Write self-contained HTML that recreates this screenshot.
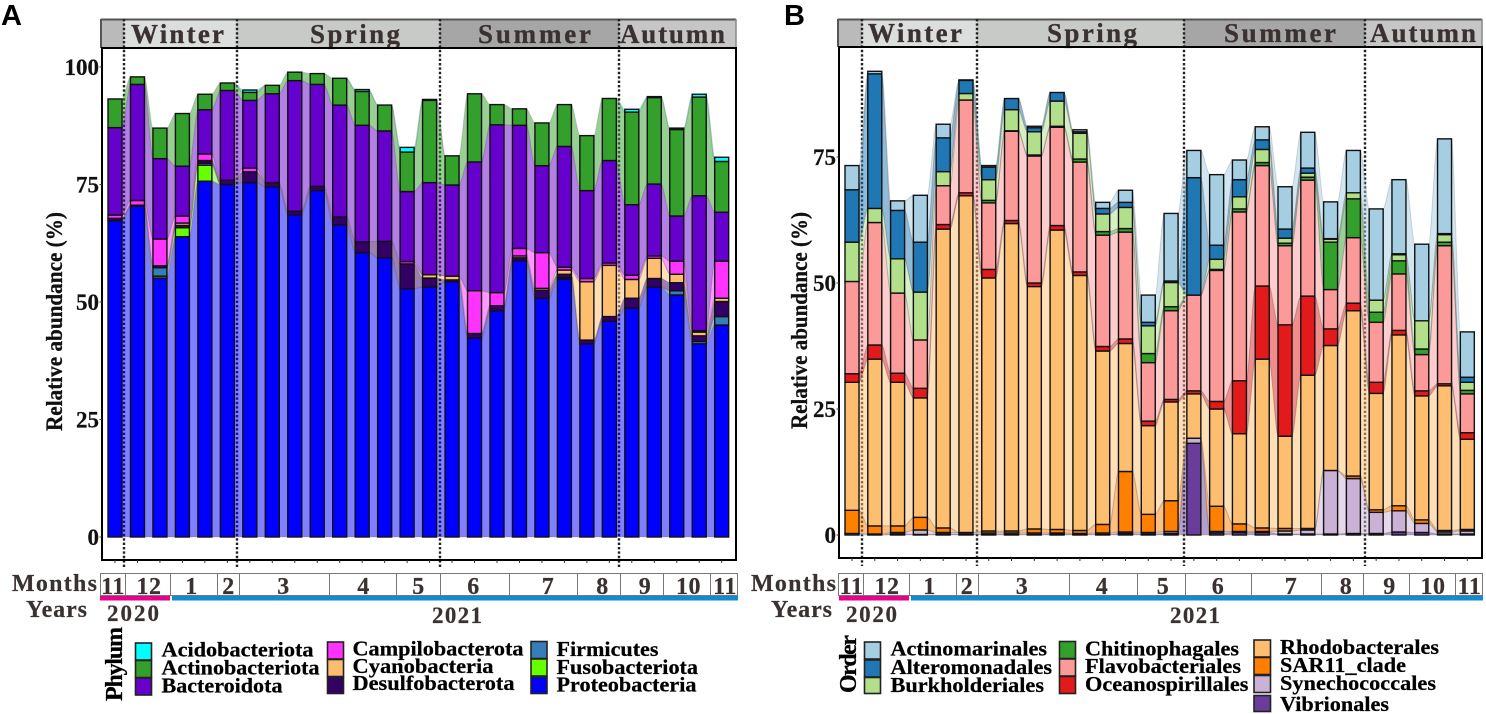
<!DOCTYPE html>
<html lang="en">
<head>
<meta charset="utf-8">
<title>Phylum and order relative abundance</title>
<style>
html,body{margin:0;padding:0;background:#fff;width:1486px;height:714px;overflow:hidden}
svg{display:block;font-family:"Liberation Serif",serif}
.strip{font-weight:bold;font-size:27px;fill:#3a3230;stroke:#3a3230;stroke-width:.3}
.meta{font-weight:bold;font-size:24px;fill:#3a3230;text-anchor:middle;letter-spacing:.5px;stroke:#3a3230;stroke-width:.2}
.year{font-weight:bold;font-size:23px;fill:#3a3230;stroke:#3a3230;stroke-width:.2}
.lab{font-weight:bold;font-size:24px;fill:#3a3230;stroke:#3a3230;stroke-width:.2}
.leg{font-weight:bold;font-size:21.5px;fill:#000;stroke:#000;stroke-width:.25}
.legt{font-weight:bold;font-size:24px;fill:#000;stroke:#000;stroke-width:.25}
.cell{fill:#fff;stroke:#777;stroke-width:1}
.sw{stroke:#222;stroke-width:1.6}
</style>
</head>
<body>
<svg id="fig" xmlns="http://www.w3.org/2000/svg" width="1486" height="714" viewBox="0 0 1486 714">
<rect width="1486" height="714" fill="#fff"/>
<text x="1" y="25" style="font-family:'Liberation Sans',sans-serif;font-weight:bold;font-size:29px">A</text>
<text x="784" y="25" style="font-family:'Liberation Sans',sans-serif;font-weight:bold;font-size:29px">B</text>

<!-- Panel A season strip -->
<g>
<rect x="101" y="19" width="23" height="29" fill="#bababa"/>
<rect x="124" y="19" width="113" height="29" fill="#dcdedd"/>
<rect x="237" y="19" width="203" height="29" fill="#c8cac8"/>
<rect x="440" y="19" width="179" height="29" fill="#a6a6a6"/>
<rect x="619" y="19" width="117" height="29" fill="#c6c6c6"/>
<line x1="101" y1="19.5" x2="736" y2="19.5" stroke="#555" stroke-width="2"/>
<line x1="101" y1="19" x2="101" y2="48" stroke="#555" stroke-width="2"/>
<line x1="736" y1="19" x2="736" y2="48" stroke="#888" stroke-width="1.5"/>
<text class="strip" x="131" y="43" textLength="93">Winter</text>
<text class="strip" x="310" y="43" textLength="90">Spring</text>
<text class="strip" x="478" y="43" textLength="113">Summer</text>
<text class="strip" x="620" y="43" textLength="105">Autumn</text>
</g>

<!-- Panel B season strip -->
<g>
<rect x="838" y="19" width="24" height="28" fill="#bababa"/>
<rect x="862" y="19" width="115" height="28" fill="#dcdedd"/>
<rect x="977" y="19" width="207" height="28" fill="#c8cac8"/>
<rect x="1184" y="19" width="181" height="28" fill="#a6a6a6"/>
<rect x="1365" y="19" width="117" height="28" fill="#c6c6c6"/>
<line x1="838" y1="19.5" x2="1482" y2="19.5" stroke="#555" stroke-width="2"/>
<line x1="838" y1="19" x2="838" y2="47" stroke="#555" stroke-width="2"/>
<line x1="1482" y1="19" x2="1482" y2="47" stroke="#888" stroke-width="1.5"/>
<text class="strip" x="868" y="42" textLength="94">Winter</text>
<text class="strip" x="1047" y="42" textLength="90">Spring</text>
<text class="strip" x="1224" y="42" textLength="112">Summer</text>
<text class="strip" x="1370" y="42" textLength="106">Autumn</text>
</g>

<g id="panelA"></g>
<g id="panelB"></g>

<!-- Panel A months / years -->
<g>
<text class="lab" x="12" y="591" textLength="85">Months</text>
<text class="lab" x="26" y="617" textLength="61">Years</text>
<rect class="cell" x="100.5" y="573.5" width="25" height="22"/>
<rect class="cell" x="125.5" y="573.5" width="45" height="22"/>
<rect class="cell" x="170.5" y="573.5" width="47" height="22"/>
<rect class="cell" x="217.5" y="573.5" width="22" height="22"/>
<rect class="cell" x="239.5" y="573.5" width="90" height="22"/>
<rect class="cell" x="329.5" y="573.5" width="67" height="22"/>
<rect class="cell" x="396.5" y="573.5" width="44" height="22"/>
<rect class="cell" x="440.5" y="573.5" width="69" height="22"/>
<rect class="cell" x="509.5" y="573.5" width="68" height="22"/>
<rect class="cell" x="577.5" y="573.5" width="43" height="22"/>
<rect class="cell" x="620.5" y="573.5" width="43" height="22"/>
<rect class="cell" x="663.5" y="573.5" width="47" height="22"/>
<rect class="cell" x="710.5" y="573.5" width="27" height="22"/>
<text class="meta" x="113" y="594">11</text>
<text class="meta" x="149" y="594">12</text>
<text class="meta" x="191.5" y="594">1</text>
<text class="meta" x="228.5" y="594">2</text>
<text class="meta" x="283.5" y="594">3</text>
<text class="meta" x="363.5" y="594">4</text>
<text class="meta" x="418.5" y="594">5</text>
<text class="meta" x="473.5" y="594">6</text>
<text class="meta" x="548" y="594">7</text>
<text class="meta" x="602.5" y="594">8</text>
<text class="meta" x="645" y="594">9</text>
<text class="meta" x="688.5" y="594">10</text>
<text class="meta" x="725" y="594">11</text>
<rect x="100" y="596" width="70" height="4.5" fill="#e6008c"/>
<rect x="172" y="596" width="566" height="4.5" fill="#0f8bd0"/>
<text class="year" x="107" y="621" textLength="52">2020</text>
<text class="year" x="432" y="623" textLength="50">2021</text>
</g>

<!-- Panel B months / years -->
<g>
<text class="lab" x="751" y="591" textLength="85">Months</text>
<text class="lab" x="771" y="617" textLength="61">Years</text>
<rect class="cell" x="838.5" y="573.5" width="25" height="22"/>
<rect class="cell" x="863.5" y="573.5" width="46" height="22"/>
<rect class="cell" x="909.5" y="573.5" width="47" height="22"/>
<rect class="cell" x="956.5" y="573.5" width="22" height="22"/>
<rect class="cell" x="978.5" y="573.5" width="91" height="22"/>
<rect class="cell" x="1069.5" y="573.5" width="68" height="22"/>
<rect class="cell" x="1137.5" y="573.5" width="48" height="22"/>
<rect class="cell" x="1185.5" y="573.5" width="66" height="22"/>
<rect class="cell" x="1251.5" y="573.5" width="70" height="22"/>
<rect class="cell" x="1321.5" y="573.5" width="42" height="22"/>
<rect class="cell" x="1363.5" y="573.5" width="46" height="22"/>
<rect class="cell" x="1409.5" y="573.5" width="46" height="22"/>
<rect class="cell" x="1455.5" y="573.5" width="27" height="22"/>
<text class="meta" x="851.5" y="594">11</text>
<text class="meta" x="887" y="594">12</text>
<text class="meta" x="929.5" y="594">1</text>
<text class="meta" x="967" y="594">2</text>
<text class="meta" x="1022" y="594">3</text>
<text class="meta" x="1102" y="594">4</text>
<text class="meta" x="1163" y="594">5</text>
<text class="meta" x="1218" y="594">6</text>
<text class="meta" x="1291" y="594">7</text>
<text class="meta" x="1346" y="594">8</text>
<text class="meta" x="1389.5" y="594">9</text>
<text class="meta" x="1433" y="594">10</text>
<text class="meta" x="1469.5" y="594">11</text>
<rect x="839" y="596" width="70" height="4.5" fill="#e6008c"/>
<rect x="911" y="596" width="572" height="4.5" fill="#0f8bd0"/>
<text class="year" x="846" y="622" textLength="51">2020</text>
<text class="year" x="1170" y="623" textLength="50">2021</text>
</g>

<!-- Legend A -->
<g>
<text class="legt" transform="translate(122,701) rotate(-90)" textLength="74">Phylum</text>
<rect class="sw" x="135.5" y="643" width="16" height="17" fill="#00ffff"/>
<text class="leg" x="161.5" y="656.5" textLength="152" lengthAdjust="spacingAndGlyphs">Acidobacteriota</text>
<rect class="sw" x="135.5" y="660.5" width="16" height="17" fill="#33a02c"/>
<text class="leg" x="161.5" y="674.5" textLength="158" lengthAdjust="spacingAndGlyphs">Actinobacteriota</text>
<rect class="sw" x="135.5" y="678" width="16" height="17" fill="#6600cc"/>
<text class="leg" x="161.5" y="692.5" textLength="121" lengthAdjust="spacingAndGlyphs">Bacteroidota</text>
<rect class="sw" x="327.5" y="642" width="16" height="17" fill="#ff33ff"/>
<text class="leg" x="352.5" y="655.5" textLength="171" lengthAdjust="spacingAndGlyphs">Campilobacterota</text>
<rect class="sw" x="327.5" y="659.5" width="16" height="17" fill="#fdbf6f"/>
<text class="leg" x="352.5" y="673" textLength="141" lengthAdjust="spacingAndGlyphs">Cyanobacteria</text>
<rect class="sw" x="327.5" y="677" width="16" height="16.5" fill="#330066"/>
<text class="leg" x="352.5" y="690" textLength="162" lengthAdjust="spacingAndGlyphs">Desulfobacterota</text>
<rect class="sw" x="531" y="641.5" width="16" height="17" fill="#377eb8"/>
<text class="leg" x="556.5" y="656" textLength="102" lengthAdjust="spacingAndGlyphs">Firmicutes</text>
<rect class="sw" x="531" y="659" width="16" height="17" fill="#66ff00"/>
<text class="leg" x="556.5" y="674" textLength="141.5" lengthAdjust="spacingAndGlyphs">Fusobacteriota</text>
<rect class="sw" x="531" y="677" width="16" height="16.5" fill="#0000ff"/>
<text class="leg" x="556.5" y="691.5" textLength="140" lengthAdjust="spacingAndGlyphs">Proteobacteria</text>
</g>

<!-- Legend B -->
<g>
<text class="legt" transform="translate(856,693) rotate(-90)" textLength="58">Order</text>
<rect class="sw" x="864.5" y="642" width="16" height="17" fill="#a6cee3"/>
<text class="leg" x="890.5" y="655.5" textLength="156.5" lengthAdjust="spacingAndGlyphs">Actinomarinales</text>
<rect class="sw" x="864.5" y="660" width="16" height="17" fill="#1f78b4"/>
<text class="leg" x="890.5" y="674" textLength="161.5" lengthAdjust="spacingAndGlyphs">Alteromonadales</text>
<rect class="sw" x="864.5" y="677.5" width="16" height="16" fill="#b2df8a"/>
<text class="leg" x="890.5" y="692" textLength="153.5" lengthAdjust="spacingAndGlyphs">Burkholderiales</text>
<rect class="sw" x="1059.5" y="641.5" width="16" height="17" fill="#33a02c"/>
<text class="leg" x="1085" y="655.5" textLength="154" lengthAdjust="spacingAndGlyphs">Chitinophagales</text>
<rect class="sw" x="1059.5" y="659" width="16" height="17" fill="#fb9a99"/>
<text class="leg" x="1085" y="673" textLength="156" lengthAdjust="spacingAndGlyphs">Flavobacteriales</text>
<rect class="sw" x="1059.5" y="676.5" width="16" height="17" fill="#e31a1c"/>
<text class="leg" x="1085" y="691" textLength="163.5" lengthAdjust="spacingAndGlyphs">Oceanospirillales</text>
<rect class="sw" x="1254" y="640" width="16.5" height="17" fill="#fdbf6f"/>
<text class="leg" x="1280" y="654" textLength="159" lengthAdjust="spacingAndGlyphs">Rhodobacterales</text>
<rect class="sw" x="1254" y="657.5" width="16.5" height="17" fill="#ff7f00"/>
<text class="leg" x="1280" y="672" textLength="126" lengthAdjust="spacingAndGlyphs">SAR11_clade</text>
<rect class="sw" x="1254" y="675.5" width="16.5" height="17" fill="#cab2d6"/>
<text class="leg" x="1280" y="690" textLength="156" lengthAdjust="spacingAndGlyphs">Synechococcales</text>
<rect class="sw" x="1254" y="695.5" width="16.5" height="16" fill="#6a3d9a"/>
<text class="leg" x="1280" y="711" textLength="109" lengthAdjust="spacingAndGlyphs">Vibrionales</text>
</g>
</svg>

<script>
// ---------- Panel A data (relative abundance %, 28 samples) ----------
const phylumNames = ['Acidobacteriota','Actinobacteriota','Bacteroidota','Campilobacterota','Cyanobacteria','Desulfobacterota','Firmicutes','Fusobacteriota','Proteobacteria'];
const phylumColors = ['#00ffff','#33a02c','#6600cc','#ff33ff','#fdbf6f','#330066','#377eb8','#66ff00','#0000ff'];
const acidobacteriota = [0,0,0,0,0,0,.5,0,0,0,0,.4,0,1,.2,0,0,0,0,0,0,0,0,.6,.2,.3,.6,.9];
const actinobacteriota = [6.1,1.6,6.5,11.2,3.3,1.6,1.7,1.8,1.8,2.3,5.7,7.2,5.5,8.4,17.5,6.2,14.5,4.3,3.5,9.1,8.9,11.7,13.2,19.7,18.4,18.4,21,10.8];
const bacteroidota = [18.6,24.7,17.1,10.6,9.4,19.1,14.4,18.9,27.8,21.7,23.8,24.8,23.5,14.9,19.6,19.4,27.4,35.7,26.2,18.5,25.7,18.7,21.8,15,15.3,9.6,28.7,10.4];
const campilobacterota = [.7,1,5.7,1.5,1.4,0,.8,0,0,0,0,0,0,.5,0,0,9.1,2.8,1.6,7.6,.6,.7,.5,.9,.5,2.8,.3,7.9];
const cyanobacteria = [0,0,0,.5,0,0,0,0,0,0,0,0,0,0,.7,.8,0,0,.4,.4,.9,12.4,10.9,4,4.3,1.8,.8,.7];
const desulfobacterota = [.5,.2,.4,.5,.6,.9,2.3,.9,.7,.9,1.7,2.3,3.5,5.3,1.9,.4,1,1.1,.6,1.7,.7,.8,1,2.1,1.8,1.7,1.2,3.2];
const firmicutes = [0,0,1.8,0,.4,0,0,0,0,0,0,0,0,0,0,0,0,0,0,0,0,0,0,0,0,.9,.5,1.8];
const fusobacteriota = [0,0,.4,1.9,3.4,0,0,0,0,0,0,0,0,0,0,0,0,0,0,0,.3,0,0,0,0,0,0,0];
const proteobacteria = [67.3,70.4,55.1,63.9,75.7,75,75.4,74.5,68.6,73.7,66.4,60.5,59.4,52.8,53.2,54.3,42.3,48.1,58.8,50.8,54.9,41.1,45.9,48.7,53.2,51.5,41.1,45.1];
const phylumTicks = [0,25,50,75,100];

// ---------- Panel B data ----------
const orderNames = ['Actinomarinales','Alteromonadales','Burkholderiales','Chitinophagales','Flavobacteriales','Oceanospirillales','Rhodobacterales','SAR11_clade','Synechococcales','Vibrionales'];
const orderColors = ['#a6cee3','#1f78b4','#b2df8a','#33a02c','#fb9a99','#e31a1c','#fdbf6f','#ff7f00','#cab2d6','#6a3d9a'];
const actinomarinales = [4.8,.5,1.9,9.3,2.7,.1,.3,0,.3,0,.4,1.2,2.4,5.4,13.4,5.4,14,3.9,2.6,8.4,7.1,7.3,8.4,18.1,14.7,15.2,18.8,9];
const alteromonadales = [10.4,26.7,9.6,9.9,6.7,2.6,2.5,2.2,.8,1.7,.3,1.1,1,.7,.3,23.3,2.8,3.4,1.9,1.8,1,.1,0,0,.2,0,.2,1];
const burkholderiales = [7.8,2.8,6.8,9.5,2.8,1.3,4.1,4.2,4.6,5,5.1,3.5,4.2,5.5,4.8,0,2,2.4,2.6,1,.8,.6,1.2,2.4,1.2,5.6,1.5,1.6];
const chitinophagales = [0,0,0,0,0,0,.5,.1,.2,.2,.6,.7,.7,1.8,.8,0,.2,.6,.6,.5,.6,9.4,7.7,2,2.6,1.1,.7,.7];
const flavobacteriales = [18.3,24.3,15.9,9.6,7.7,18.4,13.2,17.7,25.2,19.5,21.8,22.1,21.2,11.6,17.6,19,26,33.5,23.9,15.7,23,7.8,13,11.9,11.2,7.2,27.4,7.7];
const oceanospirillales = [1.7,2.8,1.8,1.9,.9,.6,1.7,.6,.7,.9,.7,.9,.9,.9,.5,.6,1.5,10.5,14.5,22.1,15.7,3.3,1.5,2.2,.9,1,.4,1.3];
const rhodobacterales = [25.4,33.1,28.5,23.7,59.3,66.8,50.2,61,48.1,59.4,50.6,34.4,25.4,17.6,19.6,8.8,19.3,17.9,33.5,18.3,30.4,24.8,32.8,23.1,33.9,24.6,28.7,17.9];
const sar11Clade = [4.6,1.6,1.3,2.5,.9,0,.4,.4,.8,.7,.6,1.7,12,3.6,6.1,0,5,1.5,.7,.5,.3,0,.5,.5,1,.7,.3,.3];
const synechococcales = [.3,.2,.3,.9,.3,.3,.3,.3,.3,.2,.2,.3,.3,.3,.4,1,.3,.2,.2,.6,.8,12.6,10.9,4.2,4.2,1.8,.4,.6];
const vibrionales = [0,0,.2,.1,.2,.2,.1,.1,.1,.2,.1,.1,.3,.2,.3,18.2,.4,.5,.5,.2,.2,.2,.3,.3,.6,.5,.2,.2];
const orderTicks = [0,25,50,75];

const SVGNS = 'http://www.w3.org/2000/svg';
function mk(parent, tag, attrs) {
  const el = document.createElementNS(SVGNS, tag);
  for (const k in attrs) el.setAttribute(k, attrs[k]);
  parent.appendChild(el);
  return el;
}
function slug(s) { return s.toLowerCase().replace(/[^a-z0-9]+/g, '-'); }

function drawPanel(root, prefix, names, colors, series, ticks, cfg) {
  const xScale = i => cfg.x0 + i * cfg.step;
  const yScale = v => cfg.y0 - v * cfg.k;
  const n = series[0].length;
  const half = cfg.barW / 2;

  // cumulative stacks, bottom series is the last one in the legend order
  const tops = series.map(() => new Array(n).fill(0));
  const bots = series.map(() => new Array(n).fill(0));
  for (let i = 0; i < n; i++) {
    let acc = 0;
    for (let s = series.length - 1; s >= 0; s--) {
      bots[s][i] = acc;
      acc += series[s][i];
      tops[s][i] = acc;
    }
  }

  // season dividers (below the flows)
  cfg.seasons.forEach((sx, idx) => {
    const d = mk(root, 'line', {x1: sx, x2: sx, y1: 19, y2: cfg.bottom + 8, stroke: '#222', 'stroke-width': 2.4, 'stroke-dasharray': '2.4 2'});
    
    
  });

  // flows between neighbouring bars
  for (let s = series.length - 1; s >= 0; s--) {
    for (let i = 0; i < n - 1; i++) {
      if (series[s][i] === 0 && series[s][i + 1] === 0) continue;
      const x1 = xScale(i) + half, x2 = xScale(i + 1) - half;
      const dx = x2 - x1, c1 = x1 + dx * 0.25, c2 = x2 - dx * 0.25;
      const t1 = yScale(tops[s][i]), t2 = yScale(tops[s][i + 1]);
      const b1 = yScale(bots[s][i]), b2 = yScale(bots[s][i + 1]);
      const p = mk(root, 'path', {
        d: `M${x1} ${t1}C${c1} ${t1} ${c2} ${t2} ${x2} ${t2}L${x2} ${b2}C${c2} ${b2} ${c1} ${b1} ${x1} ${b1}Z`,
        fill: colors[s], 'fill-opacity': 0.5, stroke: '#666', 'stroke-opacity': 0.25, 'stroke-width': 1
      });
      
      
    }
  }

  // stacked bars
  for (let i = 0; i < n; i++) {
    for (let s = series.length - 1; s >= 0; s--) {
      if (series[s][i] === 0) continue;
      const r = mk(root, 'rect', {
        x: xScale(i) - half, y: yScale(tops[s][i]), width: cfg.barW,
        height: Math.max(0, yScale(bots[s][i]) - yScale(tops[s][i])),
        fill: colors[s], stroke: '#111', 'stroke-width': 1.4
      });
      
      
    }
  }

  // panel frame
  const fr = mk(root, 'rect', {x: cfg.left, y: cfg.top, width: cfg.right - cfg.left, height: cfg.bottom - cfg.top, fill: 'none', stroke: '#000', 'stroke-width': 2});
  
  

  // x ticks
  for (let i = 0; i < n; i++) {
    const t = mk(root, 'line', {x1: xScale(i), x2: xScale(i), y1: cfg.bottom, y2: cfg.bottom + 3, stroke: '#333', 'stroke-width': 1});
    
    
  }

  // y ticks + labels
  ticks.forEach(v => {
    const t = mk(root, 'line', {x1: cfg.left - 2.5, x2: cfg.left, y1: yScale(v), y2: yScale(v), stroke: '#333', 'stroke-width': 1});
    
    
    const l = mk(root, 'text', {x: cfg.left - 3, y: yScale(v) + 8, 'text-anchor': 'end', style: 'font-weight:bold;font-size:23px;fill:#111;stroke:#111;stroke-width:.2'});
    l.textContent = String(v);
    
    
  });

  // y title
  const title = mk(root, 'text', {
    transform: `translate(${cfg.titleX},${cfg.titleBottom}) rotate(-90)`,
    textLength: cfg.titleLen, lengthAdjust: 'spacingAndGlyphs',
    style: 'font-weight:bold;font-size:23px;fill:#111;stroke:#111;stroke-width:.3'
  });
  title.textContent = 'Relative abundance (%)';
  
  
}

drawPanel(document.getElementById('panelA'), 'phylum', phylumNames, phylumColors,
  [acidobacteriota, actinobacteriota, bacteroidota, campilobacterota, cyanobacteria, desulfobacterota, firmicutes, fusobacteriota, proteobacteria],
  phylumTicks,
  {x0: 115, step: 22.47, y0: 537, k: 4.7, barW: 14, left: 102, right: 736, top: 48, bottom: 560,
   seasons: [124, 237, 440, 619], titleX: 62, titleBottom: 431, titleLen: 219});

drawPanel(document.getElementById('panelB'), 'order', orderNames, orderColors,
  [actinomarinales, alteromonadales, burkholderiales, chitinophagales, flavobacteriales, oceanospirillales, rhodobacterales, sar11Clade, synechococcales, vibrionales],
  orderTicks,
  {x0: 852, step: 22.79, y0: 535, k: 5.04, barW: 14, left: 839, right: 1482, top: 47, bottom: 558,
   seasons: [862, 977, 1184, 1365], titleX: 807, titleBottom: 429, titleLen: 217});
</script>
</body>
</html>
